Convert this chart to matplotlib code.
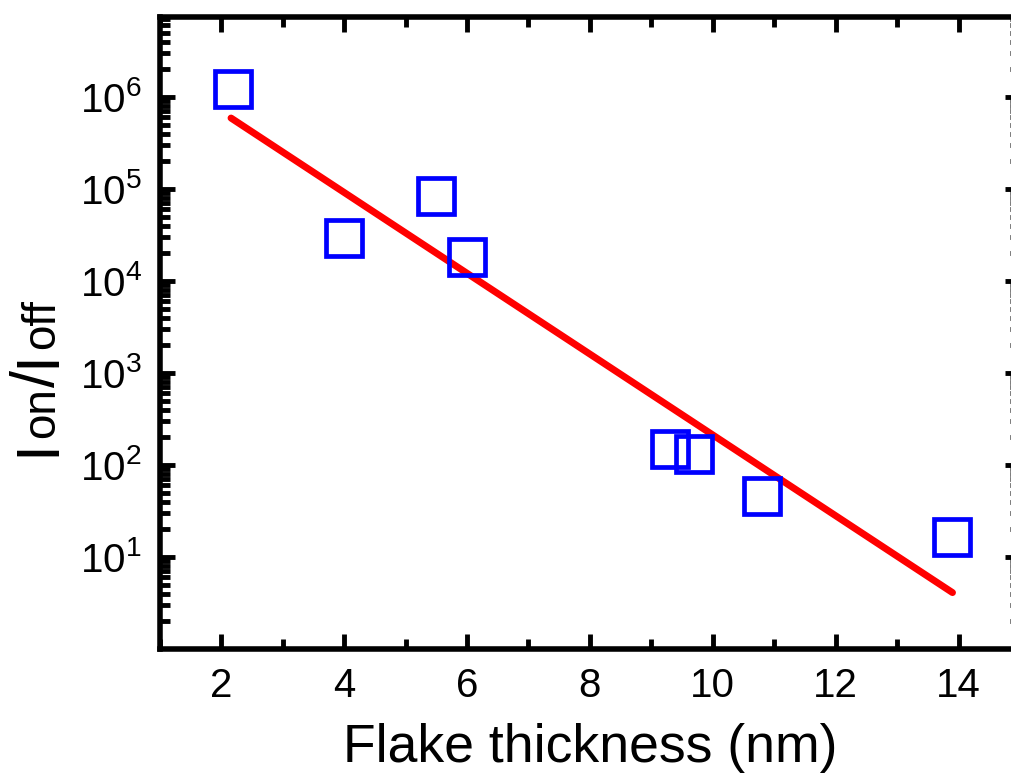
import matplotlib
matplotlib.use("Agg")
import matplotlib.pyplot as plt
from matplotlib.ticker import LogLocator, MultipleLocator, NullFormatter

plt.rcParams['font.family'] = ['Liberation Sans', 'DejaVu Sans']
plt.rcParams['mathtext.fontset'] = 'custom'
plt.rcParams['mathtext.rm'] = 'Liberation Sans'
plt.rcParams['mathtext.it'] = 'Liberation Sans:italic'
plt.rcParams['mathtext.bf'] = 'Liberation Sans:bold'

# Measured on/off current ratio vs flake thickness
thickness_nm = [2.2, 4.0, 5.5, 6.0, 9.3, 9.7, 10.8, 13.9]
on_off_ratio = [1.22e6, 2.95e4, 8.4e4, 1.8e4, 148, 131, 46, 16.5]

# Exponential fit (straight line on log scale)
fit_x = [2.16, 13.9]
fit_y = [5.9e5, 4.1]

x_ticks = [2, 4, 6, 8, 10, 12, 14]
y_exponents = [1, 2, 3, 4, 5, 6]

W, H = 1011, 776
fig = plt.figure(figsize=(W / 100, H / 100), dpi=100)
ax = fig.add_axes([0.158, 0.1637, 0.851, 0.8144])

ax.plot(fit_x, fit_y, color='#ff0000', lw=5, solid_capstyle='round', zorder=2)
ax.plot(thickness_nm, on_off_ratio, linestyle='none', marker='s', ms=26,
        mfc='none', mec='#0000ff', mew=3.4, zorder=3)

ax.set_yscale('log')
ax.set_xlim(1, 15)
ax.set_ylim(1, 7.4e6)

ax.set_xticks(x_ticks)
ax.xaxis.set_minor_locator(MultipleLocator(1))
ax.yaxis.set_minor_locator(LogLocator(base=10, subs=range(2, 10), numticks=20))
ax.yaxis.set_minor_formatter(NullFormatter())
ax.set_yticks([10**k for k in y_exponents])
ax.set_yticklabels([rf'$\mathregular{{10^{{{k}}}}}$' for k in y_exponents])

for s in ax.spines.values():
    s.set_linewidth(4)

ax.tick_params(which='both', direction='in', top=True, right=True, width=3.5)
ax.tick_params(which='major', length=11, labelsize=29, pad=13)
ax.tick_params(which='minor', length=7)

ax.set_xlabel('Flake thickness (nm)', fontsize=38.5, labelpad=13)

# Vertical axis title I_on/I_off, built from pieces sharing one baseline
renderer = fig.canvas.get_renderer()
main_size, sub_size = 44, 33
pieces = [('I', main_size, 1), ('on', sub_size, 0), ('/', main_size, 3),
          ('I', main_size, 1), ('off', sub_size, 0)]
base_x = 54
cur_y = H - 456
for txt, size, gap in pieces:
    t = fig.text(base_x / W, cur_y / H, txt, fontsize=size, rotation=90,
                 rotation_mode='anchor', ha='left', va='baseline')
    ext = t.get_window_extent(renderer)
    cur_y = ext.y1 + gap

fig.savefig('out.png', dpi=100)
